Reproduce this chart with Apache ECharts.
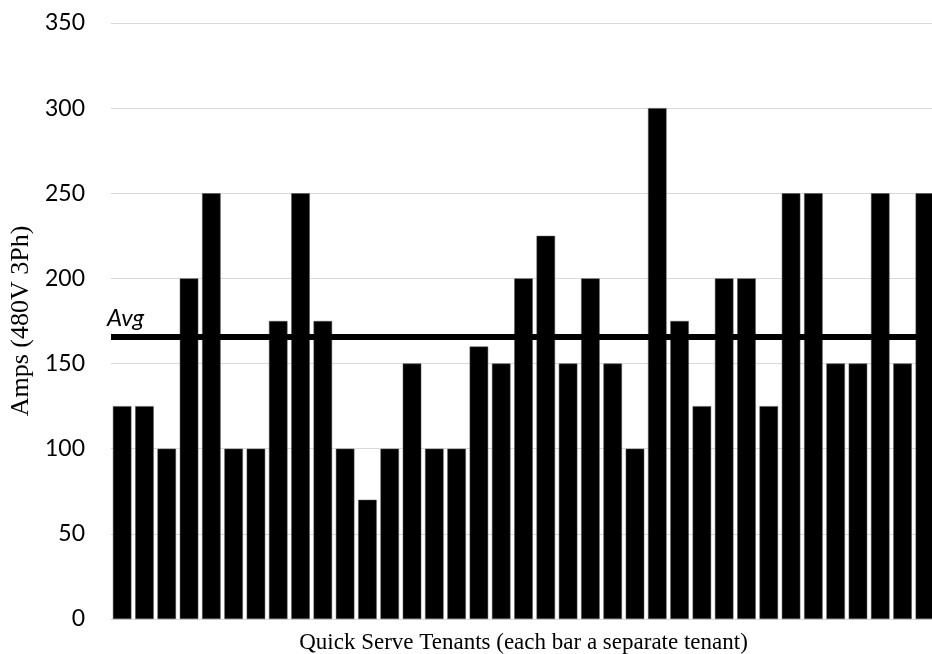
<!DOCTYPE html>
<html>
<head>
<meta charset="utf-8">
<script src="https://cdn.jsdelivr.net/npm/echarts@6/dist/echarts.min.js"></script>
<style>html,body{margin:0;padding:0;background:#fff}#c{width:932px;height:654px}</style>
</head>
<body>
<div id="c"></div>
<script>
var tenants = [];
var amps = [125,125,100,200,250,100,100,175,250,175,100,70,100,150,100,100,160,150,200,225,150,200,150,100,300,175,125,200,200,125,250,250,150,150,250,150,250];
for (var i = 0; i < amps.length; i++) tenants.push('T' + (i + 1));
var avgValue = 166;
var avgLabel = 'Avg';
var yTicks = [0, 50, 100, 150, 200, 250, 300, 350];

var chart = echarts.init(document.getElementById('c'), null, {renderer: 'canvas'});
chart.setOption({
  animation: false,
  backgroundColor: '#ffffff',
  grid: {left: 111, top: 23, right: -4, bottom: 35, containLabel: false, outerBoundsMode: 'none'},
  xAxis: {
    type: 'category',
    data: tenants,
    name: 'Quick Serve Tenants (each bar a separate tenant)',
    nameLocation: 'middle',
    nameGap: 12,
    nameTextStyle: {fontFamily: 'Liberation Serif', fontSize: 23, color: '#000'},
    axisLine: {show: true, lineStyle: {color: '#d9d9d9', width: 1}},
    axisTick: {show: false},
    axisLabel: {show: false}
  },
  yAxis: {
    type: 'value',
    min: yTicks[0],
    max: yTicks[yTicks.length - 1],
    interval: 50,
    name: 'Amps (480V 3Ph)',
    nameLocation: 'middle',
    nameGap: 74,
    nameTextStyle: {fontFamily: 'Liberation Serif', fontSize: 26, color: '#000'},
    axisLine: {show: false},
    axisTick: {show: false},
    axisLabel: {margin: 26, fontFamily: 'Lato', fontSize: 23, color: '#000'},
    splitLine: {lineStyle: {color: '#d9d9d9', width: 1}}
  },
  series: [{
    type: 'bar',
    data: amps,
    barCategoryGap: '17%',
    itemStyle: {color: '#000', borderColor: '#555', borderWidth: 0.5},
    markLine: {
      silent: true,
      symbol: 'none',
      lineStyle: {color: '#000', width: 6, type: 'solid'},
      label: {
        show: true,
        position: 'insideStartTop',
        formatter: avgLabel,
        fontFamily: 'Lato',
        fontStyle: 'italic',
        fontSize: 24,
        color: '#000',
        distance: [-4, 6]
      },
      data: [{yAxis: avgValue}]
    }
  }]
});
</script>
</body>
</html>
